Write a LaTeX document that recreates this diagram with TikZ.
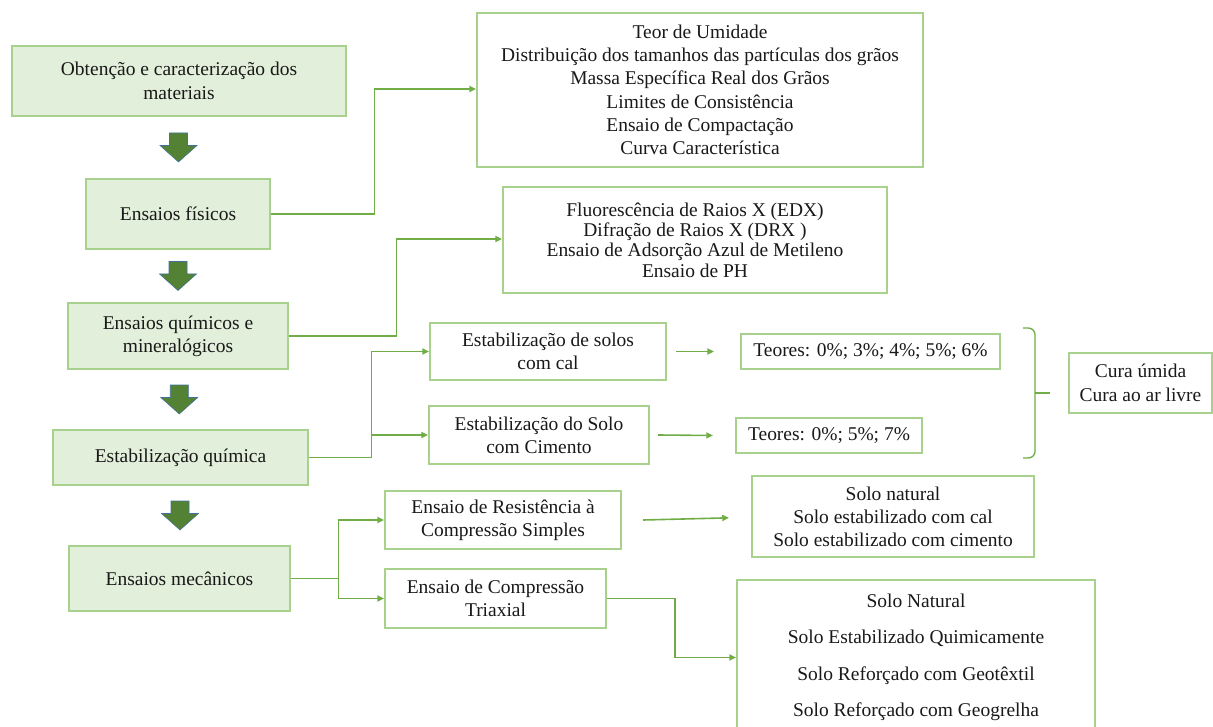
\documentclass[tikz,border=0pt]{standalone}
\usepackage{fontspec}
\setmainfont{Liberation Serif}
\usetikzlibrary{arrows.meta, calc}
\definecolor{boxfill}{HTML}{E2EFDA}
\definecolor{boxline}{HTML}{A9D18E}
\definecolor{conline}{HTML}{70AD47}
\definecolor{darkgreen}{HTML}{548235}
\definecolor{arrowedge}{HTML}{41719C}

\tikzset{
  sz/.style 2 args={minimum width=#1*0.75pt, minimum height=#2*0.75pt},
  lead/.style={font=\rmfamily\fontsize{14.6}{#1}\selectfont},
  stagebox/.style={draw=boxline, fill=boxfill, line width=1pt, inner sep=0pt, align=center, lead=17.5, text=black!90},
  listbox/.style={draw=boxline, fill=white, line width=1.6pt, inner sep=0pt, align=center, lead=17.5, text=black!90},
  con/.style={draw=conline, line width=1.2pt},
  arr/.style={-{Triangle[length=5pt,width=4.5pt]}, conline},
}

\begin{document}
\begin{tikzpicture}[x=0.75pt, y=-0.75pt]
    \useasboundingbox (0,0) rectangle (1213,727);

    % Etapas (coluna da esquerda)
    \node[stagebox, sz={334}{70}] (obt) at (179,81) {Obtenção e caracterização dos\\materiais};
    \node[stagebox, sz={184}{70}] (fis) at (178,214) {Ensaios físicos};
    \node[stagebox, sz={220}{66}, lead=17.3] (qui) at (178,336) {Ensaios químicos e\\mineralógicos};
    \node[stagebox, sz={255}{55}] (est) at (180.5,457.5) {Estabilização química};
    \node[stagebox, sz={221}{65}] (mec) at (179.5,578.5) {Ensaios mecânicos};

    % Setas em bloco entre as etapas
    \foreach \a/\b in {obt/fis, fis/qui, qui/est, est/mec} {
        \coordinate (m) at ($(\a.south)!0.5!(\b.north)$);
        \filldraw[fill=darkgreen, draw=arrowedge, line width=0.4pt]
            (m) ++(-9,-14.5) -- ++(18,0) -- ++(0,12.5) -- ++(9.5,0)
            -- ++(-18.5,16.5) -- ++(-18.5,-16.5) -- ++(9.5,0) -- cycle;
    }

    % Ensaios fisicos e quimicos
    \node[listbox, sz={446}{154}] (fisList) at (700,90) {Teor de Umidade\\Distribuição dos tamanhos das partículas dos grãos\\Massa Específica Real dos Grãos\\Limites de Consistência\\Ensaio de Compactação\\Curva Característica};
    \node[listbox, sz={384}{106}, lead=15.3] (quiList) at (695,240) {Fluorescência de Raios X (EDX)\\Difração de Raios X (DRX )\\Ensaio de Adsorção Azul de Metileno\\Ensaio de PH};

    % Estabilizacao
    \node[listbox, sz={236}{57}, lead=17.3] (cal) at (548,351.5) {Estabilização de solos\\com cal};
    \node[listbox, sz={220}{58}, lead=17.3] (cim) at (539,435) {Estabilização do Solo\\com Cimento};
    \node[listbox, sz={259}{35}] (teorCal) at (870.5,351.5) {Teores: 0\%; 3\%; 4\%; 5\%; 6\%};
    \node[listbox, sz={186}{35}] (teorCim) at (829,435.5) {Teores: 0\%; 5\%; 7\%};
    \node[listbox, sz={143}{60}, lead=18] (cura) at (1140.5,383) {Cura úmida\\Cura ao ar livre};

    % Ensaios mecanicos
    \node[listbox, sz={236}{58}, lead=17.3] (rcs) at (503,520) {Ensaio de Resistência à\\Compressão Simples};
    \node[listbox, sz={221}{59}, lead=17.3] (triax) at (495.5,598.5) {Ensaio de Compressão\\Triaxial};
    \node[listbox, sz={282}{81}, lead=17.3] (rcsList) at (893,516.5) {Solo natural\\Solo estabilizado com cal\\Solo estabilizado com cimento};
    \node[listbox, sz={358}{155}, lead=27.4] (triaxList) at (916,657.5) {Solo Natural\\Solo Estabilizado Quimicamente\\Solo Reforçado com Geotêxtil\\Solo Reforçado com Geogrelha};

    % Ligacoes
    \draw[con, arr] (fis.east) -- ++(104,0) |- ([yshift=0.75pt]fisList.west);
    \draw[con, arr] (qui.east) -- ++(108,0) |- ([yshift=0.75pt]quiList.west);
    \draw[con, arr] (est.east) -- ++(63,0) coordinate (e1) |- (cal.west);
    \draw[con, arr] (e1) |- (cim.west);
    \draw[con, arr] ([xshift=6.75pt]cal.east) -- ([xshift=-19.5pt]teorCal.west);
    \draw[con, arr] ([xshift=6pt]cim.east) -- ([xshift=-16.5pt]teorCim.west);
    \draw[con, arr] (mec.east) -- ++(48,0) coordinate (m1) |- (rcs.west);
    \draw[con, arr] (m1) |- (triax.west);
    \draw[con, arr] ([xshift=15.75pt]rcs.east) -- ([xshift=-16.5pt,yshift=-1pt]rcsList.west);
    \draw[con, arr] (triax.east) -- ++(68,0) |- (triaxList.west);

    % Chave das curas
    \draw[conline, line width=1pt, rounded corners=5pt]
        (1023,328) -- (1035,328) -- (1035,458) -- (1023,458);
    \draw[conline, line width=1pt] (1035,393) -- (1050,393);
\end{tikzpicture}
\end{document}
